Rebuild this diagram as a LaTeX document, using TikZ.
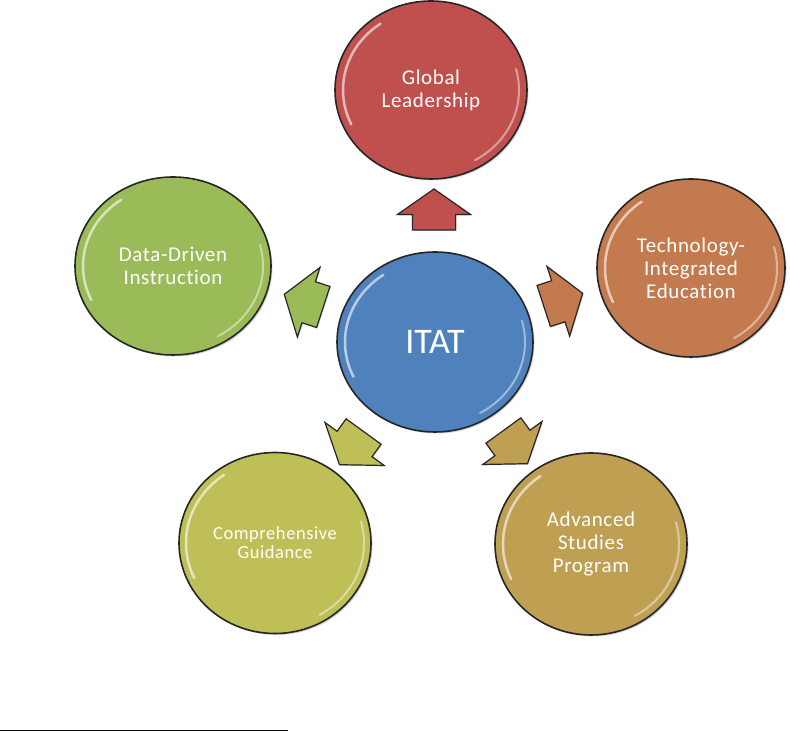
\documentclass[tikz,border=0pt]{standalone}
\usepackage{fontspec}
\setmainfont{Carlito}[Ligatures=NoCommon]
\newfontfamily\labelfont{Carlito}[LetterSpace=3, Ligatures=NoCommon]
\usetikzlibrary{shapes.geometric,shapes.arrows,shadows}
\definecolor{cBlue}{HTML}{4F81BD}
\definecolor{cRed}{HTML}{C0504D}
\definecolor{cOrange}{HTML}{C27A4E}
\definecolor{cGreen}{HTML}{9BBB59}
\definecolor{cOlive}{HTML}{BFBF58}
\definecolor{cGold}{HTML}{BF9F52}
\newcommand\glossmark[3]{%
  \begin{scope}[shift={(#1.center)}]
    \draw[white, opacity=.6, line width=2.5pt, line cap=round] (125:#2 and #3) arc[start angle=125, end angle=205, x radius=#2, y radius=#3];
    \draw[white, opacity=.45, line width=2pt, line cap=round] (-60:#2 and #3) arc[start angle=-60, end angle=15, x radius=#2, y radius=#3];
  \end{scope}}
\begin{document}
\begin{tikzpicture}[x=1pt,y=1pt,
  bubble/.style={ellipse, draw=black!85, line width=1.6pt, text=white, align=center, inner sep=0pt,
    minimum width=192pt, minimum height=178pt,
    font=\labelfont\fontsize{21}{23}\selectfont,
    drop shadow={shadow xshift=1.5pt, shadow yshift=-1.5pt, opacity=.35}},
  blockarrow/.style={single arrow, draw=black!85, line width=1.2pt, minimum height=41pt, minimum width=72pt,
    single arrow head extend=15pt, single arrow tip angle=110, inner xsep=0pt, inner ysep=21pt,
    drop shadow={shadow xshift=1pt, shadow yshift=-1pt, opacity=.3}}]
\useasboundingbox (0,0) rectangle (790,733);
% bubbles
\node[bubble, fill=cBlue, minimum width=196pt, minimum height=180pt, font=\fontsize{36}{40}\selectfont] (itat) at (435,391) {ITAT};
\node[bubble, fill=cRed] (glob) at (431,643) {Global\\Leadership};
\node[bubble, fill=cOrange, minimum width=188pt] (tech) at (691,465) {Technology-\\Integrated\\Education};
\node[bubble, fill=cGreen, minimum width=196pt] (data) at (173,467) {Data-Driven\\Instruction};
\node[bubble, fill=cOlive, minimum height=181pt, font=\labelfont\fontsize{18.5}{19}\selectfont] (comp) at (275,190) {Comprehensive\\Guidance};
\node[bubble, fill=cGold, minimum height=182pt] (adv) at (591,189) {Advanced\\Studies\\Program};
\glossmark{itat}{90}{82}
\glossmark{glob}{88}{81}
\glossmark{tech}{86}{81}
\glossmark{data}{90}{81}
\glossmark{comp}{89}{83}
\glossmark{adv}{88}{83}
% block arrows
\node[blockarrow, fill=cRed, rotate=90] (aglob) at (434,516) {};
\node[blockarrow, fill=cOrange, rotate=18] (atech) at (556,431) {};
\node[blockarrow, fill=cGreen, rotate=162] (adata) at (311,430) {};
\node[blockarrow, fill=cOlive, rotate=234] (acomp) at (356,291) {};
\node[blockarrow, fill=cGold, rotate=306] (aadv) at (511,292) {};
% footnote rule
\coordinate (fl) at (0,2);
\coordinate (fr) at (288,2);
\draw[line width=1pt] (fl) -- (fr);
\end{tikzpicture}
\end{document}
